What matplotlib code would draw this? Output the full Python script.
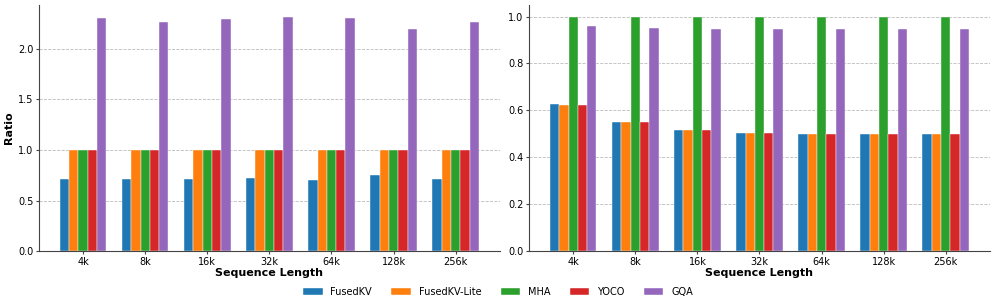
import numpy as np
import matplotlib
matplotlib.use("Agg")
import matplotlib.pyplot as plt

seq_lens = ['4k', '8k', '16k', '32k', '64k', '128k', '256k']
methods = ['FusedKV', 'FusedKV-Lite', 'MHA', 'YOCO', 'GQA']
colors = ['#1f77b4', '#ff7f0e', '#2ca02c', '#d62728', '#9467bd']

# left panel
left_fusedkv = [0.709, 0.718, 0.718, 0.728, 0.70, 0.751, 0.715]
left_fusedkv_lite = [1.0, 1.0, 1.0, 1.0, 1.0, 1.0, 1.0]
left_mha = [1.0, 1.0, 1.0, 1.0, 1.0, 1.0, 1.0]
left_yoco = [1.0, 1.0, 1.0, 1.0, 1.0, 1.0, 1.0]
left_gqa = [2.302, 2.263, 2.293, 2.32, 2.306, 2.197, 2.263]

# right panel
right_fusedkv = [0.627, 0.549, 0.516, 0.504, 0.501, 0.5, 0.5]
right_fusedkv_lite = [0.625, 0.549, 0.516, 0.504, 0.501, 0.5, 0.5]
right_mha = [1.0, 1.0, 1.0, 1.0, 1.0, 1.0, 1.0]
right_yoco = [0.625, 0.549, 0.516, 0.504, 0.501, 0.5, 0.5]
right_gqa = [0.960, 0.952, 0.948, 0.948, 0.947, 0.947, 0.947]

left_data = [left_fusedkv, left_fusedkv_lite, left_mha, left_yoco, left_gqa]
right_data = [right_fusedkv, right_fusedkv_lite, right_mha, right_yoco, right_gqa]

fig, axes = plt.subplots(1, 2, figsize=(9.96, 3.04), dpi=100)
fig.subplots_adjust(left=0.039, right=0.994, top=0.984, bottom=0.174, wspace=0.063)

x = np.arange(len(seq_lens))
width = 0.15

for ax, data in zip(axes, [left_data, right_data]):
    for i, (name, vals) in enumerate(zip(methods, data)):
        ax.bar(x + (i - 2) * width, vals, width, label=name, color=colors[i],
               edgecolor='white', linewidth=0.3)
    ax.set_xticks(x)
    ax.set_xticklabels(seq_lens)
    ax.tick_params(axis='both', labelsize=7, length=2, pad=2, color='#444444')
    ax.set_xlabel('Sequence Length', fontsize=8, fontweight='bold', labelpad=1)
    ax.grid(axis='y', linestyle='--', color='#bbbbbb', linewidth=0.6)
    ax.set_axisbelow(True)
    ax.spines['top'].set_visible(False)
    ax.spines['right'].set_visible(False)
    for s in ['left', 'bottom']:
        ax.spines[s].set_color('#444444')

axes[0].set_ylabel('Ratio', fontsize=8, fontweight='bold', labelpad=3)

handles, labels = axes[0].get_legend_handles_labels()
fig.legend(handles, labels, loc='lower center', bbox_to_anchor=(0.5, -0.005),
           ncol=5, frameon=False, fontsize=7, columnspacing=2.0)

plt.savefig('out.png', dpi=100)
